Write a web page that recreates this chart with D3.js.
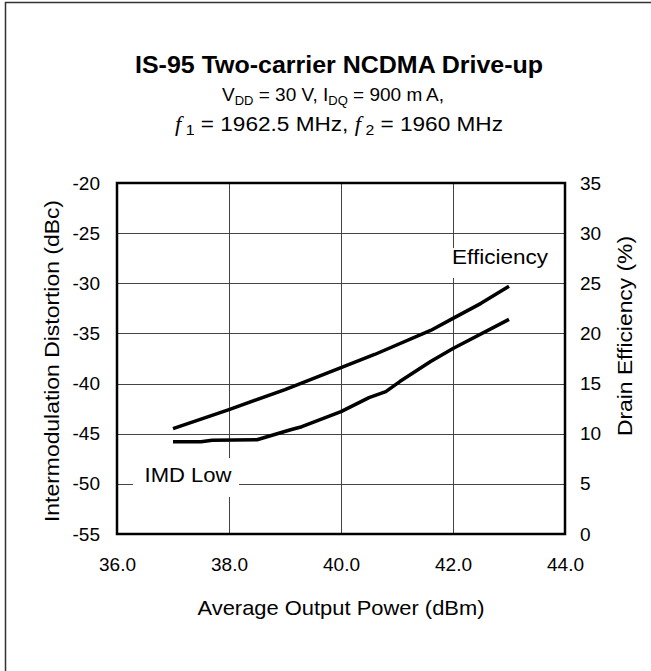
<!DOCTYPE html>
<html>
<head>
<meta charset="utf-8">
<script src="https://cdn.jsdelivr.net/npm/d3@7"></script>
<style>
  body { margin: 0; background: #fff; }
  svg { display: block; font-family: "Liberation Sans", Arial, sans-serif; }
</style>
</head>
<body>
<div id="chart"></div>
<script>
// values
var powerTicks = [36, 38, 40, 42, 44];
var imdTicks = [-55, -50, -45, -40, -35, -30, -25, -20];
var effTicks = [0, 5, 10, 15, 20, 25, 30, 35];

var effPower = [37.0, 38.0, 39.0, 40.0, 40.6, 41.6, 42.0, 42.5, 43.0];
var effPct   = [10.5, 12.4, 14.4, 16.6, 17.9, 20.3, 21.5, 23.0, 24.7];

var imdPower = [37.0, 37.5, 37.7, 38.5, 39.1, 39.3, 40.0, 40.5, 40.8, 41.05, 41.6, 42.0, 43.0];
var imdDbc   = [-45.8, -45.8, -45.65, -45.6, -44.6, -44.3, -42.8, -41.4, -40.8, -39.8, -37.8, -36.5, -33.6];

var W = 651, H = 671;
var pLeft = 117, pRight = 565, pTop = 183, pBottom = 534;

var svg = d3.select("#chart").append("svg")
    .attr("width", W)
    .attr("height", H);

// outer frame (only left and top edges show)
svg.append("path")
    .attr("d", "M5.5," + H + "V2.5H" + W)
    .attr("fill", "none")
    .attr("stroke", "#333")
    .attr("stroke-width", 1.5);

var x = d3.scaleLinear().domain([36, 44]).range([pLeft, pRight]);
var yL = d3.scaleLinear().domain([-55, -20]).range([pBottom, pTop]);
var yR = d3.scaleLinear().domain([0, 35]).range([pBottom, pTop]);

// grid
var grid = svg.append("g").attr("stroke", "#444").attr("stroke-width", 1);
grid.selectAll("line.h")
    .data(imdTicks)
    .enter().append("line")
    .attr("x1", pLeft).attr("x2", pRight)
    .attr("y1", function(d) { return Math.round(yL(d)) + 0.5; })
    .attr("y2", function(d) { return Math.round(yL(d)) + 0.5; });
grid.selectAll("line.v")
    .data(powerTicks)
    .enter().append("line")
    .attr("y1", pTop).attr("y2", pBottom)
    .attr("x1", function(d) { return Math.round(x(d)) + 0.5; })
    .attr("x2", function(d) { return Math.round(x(d)) + 0.5; });

// annotation boxes knock out the grid
function label(txt, cx, base, len, bx, by, bw, bh) {
    svg.append("rect")
        .attr("x", bx).attr("y", by)
        .attr("width", bw).attr("height", bh)
        .attr("fill", "#fff");
    svg.append("text")
        .attr("x", cx - len / 2).attr("y", base)
        .attr("font-size", 20)
        .attr("textLength", len)
        .attr("lengthAdjust", "spacingAndGlyphs")
        .text(txt);
}
label("Efficiency", 500, 264, 96, 446, 248, 108, 30);
label("IMD Low", 188, 482, 87, 133, 458, 106, 39);

// curves
var line = d3.line();
svg.append("path")
    .attr("d", line(effPower.map(function(p, i) { return [x(p), yR(effPct[i])]; })))
    .attr("fill", "none")
    .attr("stroke", "#000")
    .attr("stroke-width", 3.5)
    .attr("stroke-linejoin", "round");
svg.append("path")
    .attr("d", line(imdPower.map(function(p, i) { return [x(p), yL(imdDbc[i])]; })))
    .attr("fill", "none")
    .attr("stroke", "#000")
    .attr("stroke-width", 3.5)
    .attr("stroke-linejoin", "round");

// plot frame
svg.append("rect")
    .attr("x", pLeft).attr("y", pTop)
    .attr("width", pRight - pLeft).attr("height", pBottom - pTop)
    .attr("fill", "none")
    .attr("stroke", "#000")
    .attr("stroke-width", 2.5);

// axes (labels only, frame drawn above)
var axL = svg.append("g")
    .attr("transform", "translate(" + pLeft + ",0)")
    .call(d3.axisLeft(yL).tickValues(imdTicks).tickSize(0).tickPadding(17));
var axR = svg.append("g")
    .attr("transform", "translate(" + pRight + ",0)")
    .call(d3.axisRight(yR).tickValues(effTicks).tickSize(0).tickPadding(15));
var axB = svg.append("g")
    .attr("transform", "translate(0," + pBottom + ")")
    .call(d3.axisBottom(x).tickValues(powerTicks).tickSize(0).tickPadding(24)
        .tickFormat(d3.format(".1f")));
[axL, axR, axB].forEach(function(a) {
    a.select(".domain").remove();
    a.selectAll("text")
        .attr("font-family", "Liberation Sans, Arial, sans-serif")
        .attr("font-size", 19)
        .attr("fill", "#000");
});
axL.selectAll("text").text(function(d) { return d; });

// axis titles
svg.append("text")
    .attr("transform", "translate(59,361) rotate(-90)")
    .attr("text-anchor", "middle")
    .attr("font-size", 21)
    .attr("textLength", 322)
    .attr("lengthAdjust", "spacingAndGlyphs")
    .text("Intermodulation Distortion (dBc)");
svg.append("text")
    .attr("transform", "translate(632,336) rotate(-90)")
    .attr("text-anchor", "middle")
    .attr("font-size", 21)
    .attr("textLength", 200)
    .attr("lengthAdjust", "spacingAndGlyphs")
    .text("Drain Efficiency (%)");
svg.append("text")
    .attr("x", 341).attr("y", 615)
    .attr("text-anchor", "middle")
    .attr("font-size", 21)
    .attr("textLength", 287)
    .attr("lengthAdjust", "spacingAndGlyphs")
    .text("Average Output Power (dBm)");

// title block
svg.append("text")
    .attr("x", 339).attr("y", 73)
    .attr("text-anchor", "middle")
    .attr("font-size", 24)
    .attr("font-weight", "bold")
    .attr("textLength", 408)
    .attr("lengthAdjust", "spacingAndGlyphs")
    .text("IS-95 Two-carrier NCDMA Drive-up");

var t2 = svg.append("text")
    .attr("x", 333).attr("y", 101)
    .attr("text-anchor", "middle")
    .attr("font-size", 19);
t2.append("tspan").text("V");
t2.append("tspan").attr("font-size", 13).attr("dy", 4).text("DD");
t2.append("tspan").attr("dy", -4).text(" = 30 V, I");
t2.append("tspan").attr("font-size", 13).attr("dy", 4).text("DQ");
t2.append("tspan").attr("dy", -4).text(" = 900 m\u2009A,");

var t3 = svg.append("text")
    .attr("x", 339).attr("y", 131)
    .attr("text-anchor", "middle")
    .attr("font-size", 20)
    .attr("textLength", 328)
    .attr("lengthAdjust", "spacingAndGlyphs");
t3.append("tspan").attr("font-family", "Liberation Serif, serif").attr("font-style", "italic").text("f");
t3.append("tspan").attr("font-size", 14).attr("dy", 4).text(" 1");
t3.append("tspan").attr("dy", -4).text(" = 1962.5 MHz, ");
t3.append("tspan").attr("font-family", "Liberation Serif, serif").attr("font-style", "italic").text("f");
t3.append("tspan").attr("font-size", 14).attr("dy", 4).text(" 2");
t3.append("tspan").attr("dy", -4).text(" = 1960 MHz");
</script>
</body>
</html>
